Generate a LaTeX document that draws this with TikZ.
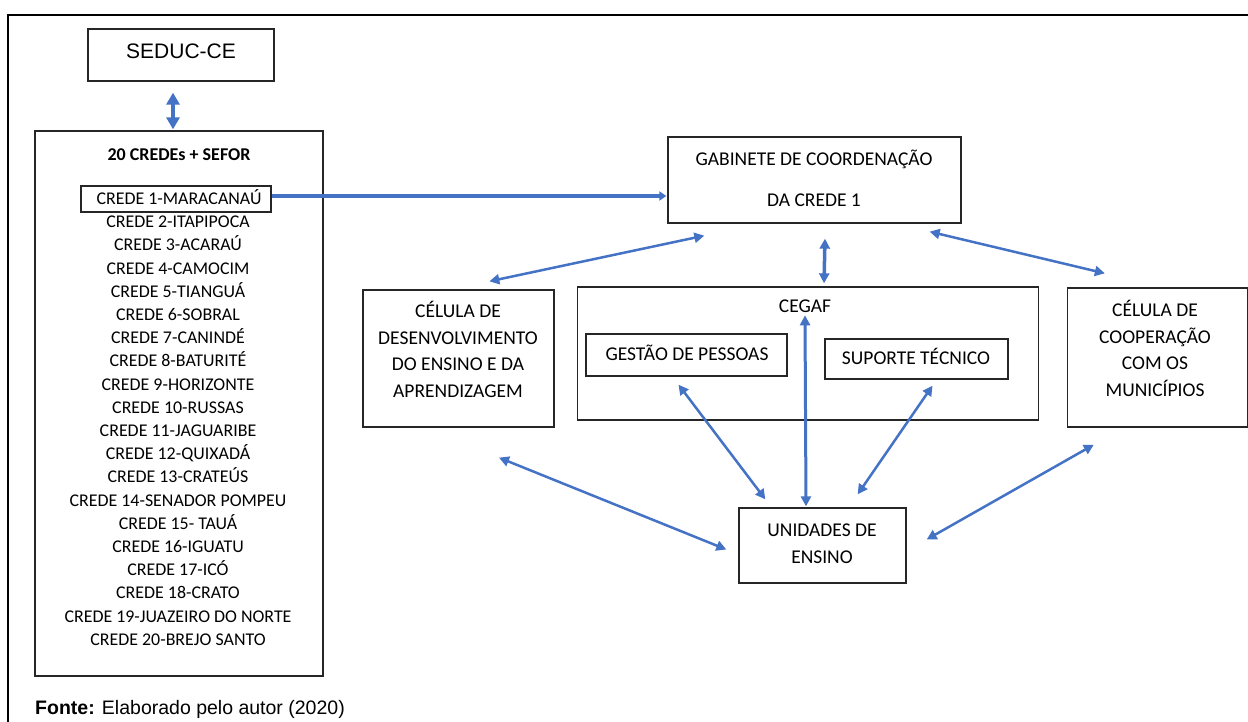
\documentclass[tikz,border=0pt]{standalone}
\usepackage{fontspec}
\setmainfont{Carlito}
\newfontfamily\arialf{Liberation Sans}
\usetikzlibrary{arrows.meta}
\definecolor{arrblue}{HTML}{4472C4}
\begin{document}
\begin{tikzpicture}[x=1pt,y=-1pt,
  box/.style={draw=black!85, line width=1.3pt, rectangle, inner sep=0pt},
  txt/.style={font=\fontsize{19.5}{26.5}\selectfont, align=center, inner sep=0pt},
  stxt/.style={txt, text height=13, text depth=1},
  ltxt/.style={font=\fontsize{17.9}{22}\selectfont, inner sep=0pt, text height=12, text depth=1},
  arr/.style={draw=arrblue, line width=2.5pt, {Triangle[length=10pt,width=10pt]}-{Triangle[length=10pt,width=10pt]}},
]
\useasboundingbox (0,0) rectangle (1248,722);
\clip (0,0) rectangle (1248,722);
% outer frame
\draw[line width=1.8pt] (8,760) -- (8,15) -- (1290,15);

% boxes
\node[box, minimum width=186, minimum height=52] (seduc) at (181,55) {};
\node[inner sep=0pt, font=\arialf\fontsize{21}{24}\selectfont, text height=15, text depth=0] (sedt) at (181,51) {SEDUC-CE};

\node[box, minimum width=288, minimum height=545] (credes) at (179,403.5) {};
\node[ltxt, font=\bfseries\fontsize{18}{22}\selectfont] (ctitle) at (179,155) {20 CREDEs + SEFOR};

\node[box, minimum width=190, minimum height=26] (c1box) at (176,199) {};
\node[ltxt] (c1) at (179,199) {CREDE 1-MARACANAÚ};
\foreach \t [count=\i from 2] in {CREDE 2-ITAPIPOCA, CREDE 3-ACARAÚ, CREDE 4-CAMOCIM, CREDE 5-TIANGUÁ, CREDE 6-SOBRAL, CREDE 7-CANINDÉ, CREDE 8-BATURITÉ, CREDE 9-HORIZONTE, CREDE 10-RUSSAS, CREDE 11-JAGUARIBE, CREDE 12-QUIXADÁ, CREDE 13-CRATEÚS, CREDE 14-SENADOR POMPEU, CREDE 15- TAUÁ, CREDE 16-IGUATU, CREDE 17-ICÓ, CREDE 18-CRATO, CREDE 19-JUAZEIRO DO NORTE, CREDE 20-BREJO SANTO}
  \node[ltxt] (c\i) at (178,{199+23.2*(\i-1)}) {\t};

\node[box, minimum width=293, minimum height=86] (gab) at (814.5,180) {};
\node[txt, font=\fontsize{19.5}{41}\selectfont] (gabt) at (814,178.5) {GABINETE DE COORDENAÇÃO\\DA CREDE 1};

\node[box, minimum width=191, minimum height=137] (desenv) at (458.5,358.5) {};
\node[txt] (desenvt) at (458,349.5) {CÉLULA DE\\DESENVOLVIMENTO\\DO ENSINO E DA\\APRENDIZAGEM};

\node[box, minimum width=461, minimum height=133] (cegaf) at (808,353.5) {};
\node[stxt] (cegaft) at (805,306) {CEGAF};
\node[box, minimum width=201, minimum height=42] (gestao) at (686.5,355) {};
\node[stxt] (gestaot) at (687,354) {GESTÃO DE PESSOAS};
\node[box, minimum width=183, minimum height=40] (suporte) at (916.5,359) {};
\node[stxt] (suportet) at (916,358) {SUPORTE TÉCNICO};

\node[box, minimum width=180, minimum height=139] (coop) at (1157.5,357.5) {};
\node[txt] (coopt) at (1155,348.5) {CÉLULA DE\\COOPERAÇÃO\\COM OS\\MUNICÍPIOS};

\node[box, minimum width=167, minimum height=75] (unid) at (822.5,545.5) {};
\node[txt, font=\fontsize{19.5}{27}\selectfont] (unidt) at (822,543.5) {UNIDADES DE\\ENSINO};

% caption
\node[anchor=west, inner sep=0pt, font=\arialf\fontsize{19.5}{22}\selectfont, text height=14, text depth=0] (fonte) at (35,707) {\textbf{Fonte:} Elaborado pelo autor (2020)};

% connectors
\draw[arr, line width=4pt, {Triangle[length=12pt,width=13pt]}-{Triangle[length=12pt,width=13pt]}]
  ([shift={(-8,11)}]seduc.south) -- ([shift={(-6,-1)}]credes.north);
\draw[draw=arrblue, line width=4pt, -{Triangle[length=7pt,width=9pt]}]
  ([shift={(0,-3)}]c1box.east) -- ([shift={(-1,16)}]gab.west);
\draw[arr] ([shift={(37,12)}]gab.south west) -- ([shift={(127,-8)}]desenv.north west);
\draw[arr, line width=3.5pt] ([shift={(10.5,15)}]gab.south) -- ([shift={(16,-3)}]cegaf.north);
\draw[arr] ([shift={(-32,8)}]gab.south east) -- ([shift={(38,-14)}]coop.north west);
\draw[arr] ([shift={(40.5,30)}]desenv.south) -- ([shift={(-12,4)}]unid.west);
\draw[arr] ([shift={(-8,8)}]gestao.south) -- ([shift={(27,-8)}]unid.north west);
\draw[arr, line width=3pt] ([shift={(-3,29)}]cegaf.north) -- ([shift={(-16.5,-1)}]unid.north);
\draw[arr] ([shift={(16,6)}]suporte.south) -- ([shift={(-49,-13)}]unid.north east);
\draw[arr] ([shift={(27,17)}]coop.south west) -- ([shift={(20,-6)}]unid.east);
\end{tikzpicture}
\end{document}
